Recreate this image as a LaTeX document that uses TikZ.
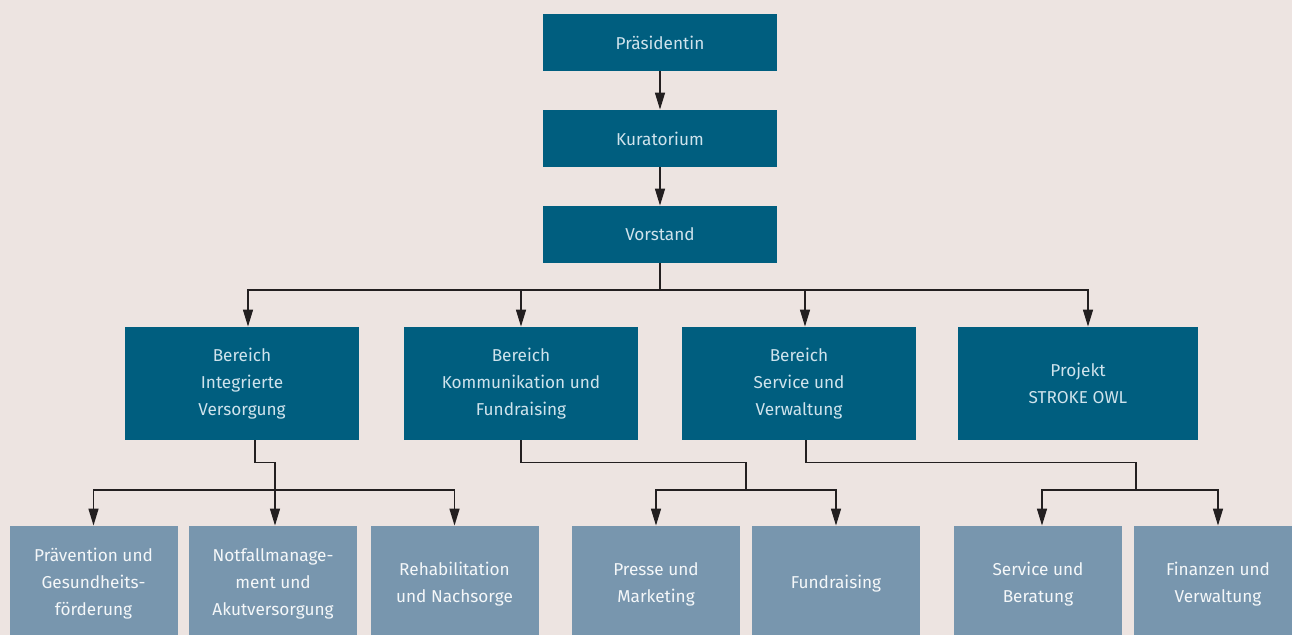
\documentclass[tikz,border=0pt]{standalone}
\usepackage{fontspec}
\setmainfont{Fira Sans}
\usetikzlibrary{arrows.meta}
\definecolor{hgrund}{HTML}{EDE4E1}
\definecolor{dunkel}{HTML}{005E7F}
\definecolor{hell}{HTML}{7896AE}
\definecolor{schrift}{HTML}{CFE3EC}
\definecolor{linie}{HTML}{231F20}
\tikzset{
  leitung/.style={draw=none,fill=dunkel,text=schrift,align=center,inner sep=0pt,
    font=\fontsize{8.6}{13.5}\selectfont},
  bereich/.style={draw=none,fill=dunkel,text=schrift,align=center,inner sep=0pt,
    font=\fontsize{8.6}{13.5}\selectfont},
  abteilung/.style={draw=none,fill=hell,text=white!92!hell,align=center,inner sep=0pt,
    font=\fontsize{8.6}{13.5}\selectfont},
  pfeil/.style={draw=linie,line width=0.7pt,-{Triangle[width=5pt,length=8.5pt]}},
  strich/.style={draw=linie,line width=0.7pt}
}
\begin{document}
\begin{tikzpicture}[x=0.5pt,y=0.5pt]
        \fill[hgrund] (0,0) rectangle (1292,-635);
        \useasboundingbox (0,0) rectangle (1292,-635);
        % Leitung
        \node[leitung,minimum width=117pt,minimum height=28.5pt] (praes) at (660,-42.5) {Präsidentin};
        \node[leitung,minimum width=117pt,minimum height=28.5pt] (kurat) at (660,-138.5) {Kuratorium};
        \node[leitung,minimum width=117pt,minimum height=28.5pt] (vorst) at (660,-234.5) {Vorstand};
        \draw[pfeil] (praes.south) -- (kurat.north);
        \draw[pfeil] (kurat.south) -- (vorst.north);
        % Bereiche
        \node[bereich,minimum width=117pt,minimum height=56.5pt] (integ) at (242,-383.5) {Bereich\\Integrierte\\Versorgung};
        \node[bereich,minimum width=117pt,minimum height=56.5pt] (kommu) at (521,-383.5) {Bereich\\Kommunikation und\\Fundraising};
        \node[bereich,minimum width=117pt,minimum height=56.5pt] (servi) at (799,-383.5) {Bereich\\Service und\\Verwaltung};
        \node[bereich,minimum width=120pt,minimum height=56.5pt] (stroke) at (1078,-383.5) {Projekt\\STROKE OWL};
        \coordinate (bus0) at (660,-290);
        \draw[strich] (vorst.south) -- (bus0);
        \draw[pfeil] (bus0) -| ([xshift=3pt]integ.north);
        \draw[pfeil] (bus0) -| (kommu.north);
        \draw[pfeil] (bus0) -| ([xshift=3pt]servi.north);
        \draw[pfeil] (bus0) -| ([xshift=5pt]stroke.north);
        % Abteilungen
        \foreach \name/\xpos/\txt in {
            praev/93.5/{Prävention und\\Gesundheits-\\förderung},
            notf/273/{Notfallmanage-\\ment und\\Akutversorgung},
            reha/454.5/{Rehabilitation\\und Nachsorge},
            presse/656/{Presse und\\Marketing},
            fund/836/{Fundraising},
            berat/1038/{Service und\\Beratung},
            finanz/1218/{Finanzen und\\Verwaltung}} {
            \node[abteilung,minimum width=84pt,minimum height=58pt] (\name) at (\xpos,-584) {\txt};
        }
        \coordinate (busA) at (275,-490);
        \coordinate (busB) at (746,-490);
        \coordinate (busC) at (1136,-490);
        \draw[strich] ([xshift=6.5pt]integ.south) -- ++(0,-22) -| (busA);
        \draw[strich] (kommu.south) -- ++(0,-22) -| (busB);
        \draw[strich] ([xshift=3.5pt]servi.south) -- ++(0,-22) -| (busC);
        \draw[pfeil] (busA) -| (praev.north);
        \draw[pfeil] (busA) -- ([xshift=1pt]notf.north);
        \draw[pfeil] (busA) -| (reha.north);
        \draw[pfeil] (busB) -| (presse.north);
        \draw[pfeil] (busB) -| (fund.north);
        \draw[pfeil] (busC) -| ([xshift=2pt]berat.north);
        \draw[pfeil] (busC) -| (finanz.north);
\end{tikzpicture}
\end{document}
